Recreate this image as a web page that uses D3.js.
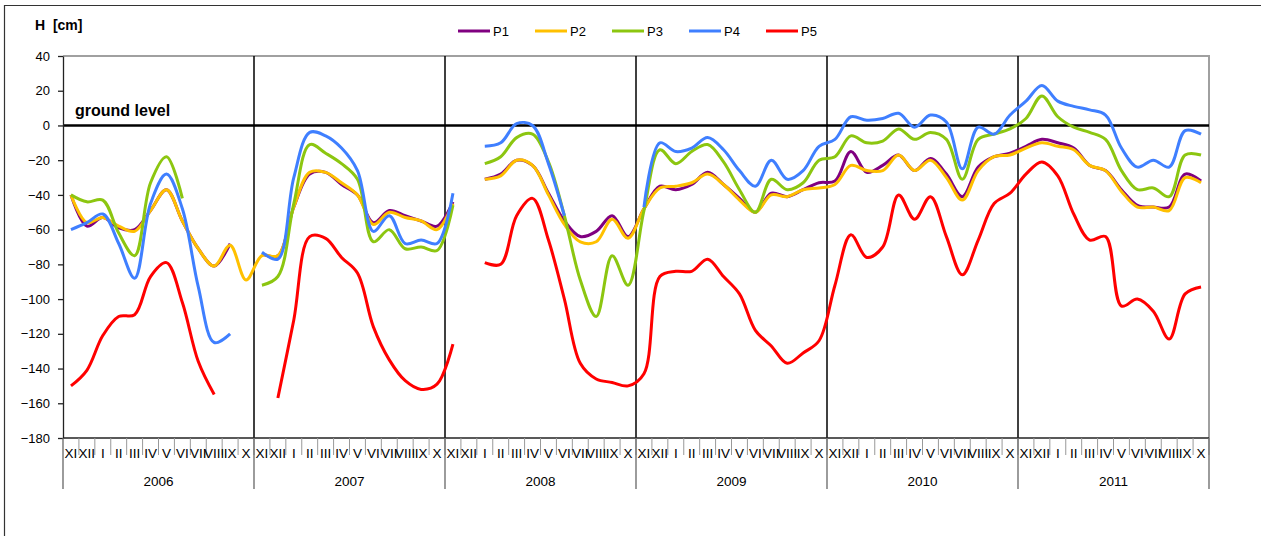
<!DOCTYPE html>
<html>
<head>
<meta charset="utf-8">
<script src="https://cdnjs.cloudflare.com/ajax/libs/d3/7.8.5/d3.min.js"></script>
<style>
body { margin: 0; background: #fff; }
text { font-family: "Liberation Sans", Arial, sans-serif; fill: #000; }
</style>
</head>
<body>
<script>
// hydrological years, each one runs XI..X
var years = ["2006", "2007", "2008", "2009", "2010", "2011"];
var months = ["XI", "XII", "I", "II", "III", "IV", "V", "VI", "VII", "VIII", "IX", "X"];
var yTicks = [40, 20, 0, -20, -40, -60, -80, -100, -120, -140, -160, -180];

var seriesNames = ["P1", "P2", "P3", "P4", "P5"];
var seriesColors = ["#800080", "#FFC000", "#8CC610", "#3F7FFF", "#FF0000"];

// groundwater level, one value per month (null = no reading)
var p1 = [
    -40, -58, -53, -59, -60, -49, -37, -55, -71, -81, -68, null,
    -74, -75, -47, -28, -27, -34, -40, -56, -49, -52, -55, -58,
    -44, null, -31, -28, -20, -23, -39, -55, -64, -61, -52, -64,
    -48, -35, -37, -34, -27, -34, -42, -50, -39, -41, -37, -33,
    -32, -15, -27, -23, -17, -26, -19, -28, -41, -24, -18, -16,
    -12, -8, -10, -13, -23, -26, -37, -46, -47, -47, -28, -32
];
var p2 = [
    -40, -56, -53, -58, -61, -49, -37, -55, -71, -81, -69, -89,
    -75, -75, -47, -27, -27, -33, -40, -57, -50, -53, -55, -60,
    -45, null, -31, -29, -20, -23, -40, -57, -67, -67, -54, -65,
    -48, -36, -35, -33, -28, -34, -43, -50, -40, -41, -37, -36,
    -34, -23, -26, -26, -17, -26, -20, -30, -43, -26, -18, -17,
    -13, -10, -12, -14, -23, -26, -38, -47, -47, -49, -30, -33
];
var p3 = [
    -40, -44, -43, -62, -75, -33, -18, -42, null, null, null, null,
    -92, -87, -45, -11, -16, -22, -31, -67, -60, -71, -70, -72,
    -46, null, -22, -18, -7, -5, -21, -52, -89, -110, -75, -92,
    -49, -14, -22, -15, -11, -21, -37, -50, -31, -37, -33, -20,
    -18, -6, -10, -9, -2, -8, -4, -8, -31, -8, -5, -2,
    4, 17, 5, -1, -4, -8, -26, -37, -36, -41, -17, -17
];
var p4 = [
    -60, -56, -51, -68, -88, -45, -28, -48, -93, -125, -120, null,
    -73, -77, -30, -4, -6, -13, -26, -61, -52, -68, -66, -68,
    -39, null, -12, -10, 1, 0, -22, -52, null, null, null, null,
    -47, -10, -15, -13, -7, -14, -26, -35, -20, -31, -26, -12,
    -8, 5, 3, 4, 7, -1, 6, 2, -25, -1, -5, 6,
    14, 23, 14, 11, 9, 6, -13, -24, -20, -24, -3, -5
];
var p5 = [
    -150, -141, -121, -110, -109, -87, -79, -102, -136, -155, null, null,
    null, -157, -112, -64, -65, -76, -85, -116, -135, -147, -152, -149,
    -126, null, -79, -80, -52, -42, -66, -100, -137, -146, -148, -150,
    -143, -87, -84, -84, -77, -87, -97, -118, -127, -137, -131, -124,
    -92, -63, -76, -70, -40, -54, -41, -64, -86, -66, -45, -39,
    -28, -21, -29, -51, -66, -64, -104, -100, -107, -123, -97, -93
];
var allSeries = [p1, p2, p3, p4, p5];

var w = 1261;
var h = 536;
var plot = { left: 63, right: 1209, top: 56, bottom: 438 };

var categories = [];
years.forEach(function (yr) {
    months.forEach(function (m) { categories.push(yr + " " + m); });
});

var x = d3.scaleBand().domain(categories).range([plot.left, plot.right]).padding(0);
var xYear = d3.scaleBand().domain(years).range([plot.left, plot.right]).padding(0);
var y = d3.scaleLinear().domain([-180, 40]).range([plot.bottom, plot.top]);

var svg = d3.select("body")
    .append("svg")
    .attr("width", w)
    .attr("height", h);

// frame of the embedded chart (cut by the page)
svg.append("line").attr("x1", 4).attr("x2", w).attr("y1", 5.5).attr("y2", 5.5)
    .style("stroke", "#333").style("stroke-width", 1.2);
svg.append("line").attr("x1", 4.5).attr("x2", 4.5).attr("y1", 5).attr("y2", h)
    .style("stroke", "#333").style("stroke-width", 1.2);

var drawPlotArea = function () {
    // top and right border of plot area
    svg.append("path")
        .attr("d", "M" + plot.left + "," + plot.top + "H" + plot.right + "V" + plot.bottom)
        .style("fill", "none")
        .style("stroke", "#a0a0a0")
        .style("stroke-width", 2);

    // year separators
    svg.selectAll(".yearLine")
        .data(years.slice(1))
        .enter()
        .append("line")
        .attr("class", "yearLine")
        .attr("x1", (d) => { return xYear(d) })
        .attr("x2", (d) => { return xYear(d) })
        .attr("y1", plot.top)
        .attr("y2", plot.bottom)
        .style("stroke", "#000")
        .style("stroke-width", 1.5);

    // ground level line
    svg.append("line")
        .attr("x1", plot.left)
        .attr("x2", plot.right)
        .attr("y1", y(0))
        .attr("y2", y(0))
        .style("stroke", "#000")
        .style("stroke-width", 2.5);

    svg.append("text")
        .attr("x", 75)
        .attr("y", 116)
        .style("font-size", "16px")
        .style("font-weight", "bold")
        .text("ground level");
}

var drawYAxis = function () {
    var axis = svg.append("g")
        .attr("transform", "translate(" + plot.left + ",0)")
        .call(d3.axisLeft(y).tickValues(yTicks).tickSize(5).tickPadding(8).tickSizeOuter(0));
    axis.select(".domain").style("stroke", "#222").style("stroke-width", 1.3);
    axis.selectAll(".tick line").style("stroke", "#222").style("stroke-width", 1.3);
    axis.selectAll("text")
        .style("font-family", "'Liberation Sans', Arial, sans-serif")
        .style("font-size", "13px")
        .style("fill", "#000");

    svg.append("text")
        .attr("x", 35)
        .attr("y", 30)
        .style("font-size", "14px")
        .style("font-weight", "bold")
        .style("white-space", "pre")
        .text("H  [cm]");
}

var drawXAxis = function () {
    svg.append("line")
        .attr("x1", plot.left)
        .attr("x2", plot.right)
        .attr("y1", plot.bottom)
        .attr("y2", plot.bottom)
        .style("stroke", "#222")
        .style("stroke-width", 1.3);

    // month ticks
    svg.selectAll(".monthTick")
        .data(categories)
        .enter()
        .append("line")
        .attr("class", "monthTick")
        .attr("x1", (d) => { return x(d) + x.bandwidth() })
        .attr("x2", (d) => { return x(d) + x.bandwidth() })
        .attr("y1", plot.bottom)
        .attr("y2", 455)
        .style("stroke", "#999")
        .style("stroke-width", 1);

    svg.selectAll(".monthLabel")
        .data(categories)
        .enter()
        .append("text")
        .attr("class", "monthLabel")
        .attr("x", (d) => { return x(d) + x.bandwidth() / 2 })
        .attr("y", 458)
        .attr("text-anchor", "middle")
        .style("font-size", "13.5px")
        .text((d) => { return d.split(" ")[1] });

    // year ticks
    svg.selectAll(".yearTick")
        .data(years.concat(["end"]))
        .enter()
        .append("line")
        .attr("class", "yearTick")
        .attr("x1", (d) => { return d == "end" ? plot.right : xYear(d) })
        .attr("x2", (d) => { return d == "end" ? plot.right : xYear(d) })
        .attr("y1", plot.bottom)
        .attr("y2", 489)
        .style("stroke", "#666")
        .style("stroke-width", 1.3);

    svg.selectAll(".yearLabel")
        .data(years)
        .enter()
        .append("text")
        .attr("class", "yearLabel")
        .attr("x", (d) => { return xYear(d) + xYear.bandwidth() / 2 })
        .attr("y", 486)
        .attr("text-anchor", "middle")
        .style("font-size", "13.5px")
        .text((d) => { return d });
}

var drawSeries = function () {
    var line = d3.line()
        .defined((d) => { return d != null })
        .x((d, i) => { return x(categories[i]) + x.bandwidth() / 2 })
        .y((d) => { return y(d) })
        .curve(d3.curveCatmullRom.alpha(0.5));

    svg.selectAll(".series")
        .data(allSeries)
        .enter()
        .append("path")
        .attr("class", "series")
        .attr("d", line)
        .style("fill", "none")
        .style("stroke", (d, i) => { return seriesColors[i] })
        .style("stroke-width", 3)
        .style("stroke-linejoin", "round");
}

var drawLegend = function () {
    var item = svg.selectAll(".legend")
        .data(seriesNames)
        .enter()
        .append("g")
        .attr("class", "legend")
        .attr("transform", (d, i) => { return "translate(" + (458 + i * 77) + ",31)" });

    item.append("line")
        .attr("x1", 0)
        .attr("x2", 32)
        .style("stroke", (d, i) => { return seriesColors[i] })
        .style("stroke-width", 3);

    item.append("text")
        .attr("x", 35)
        .attr("y", 5)
        .style("font-size", "13px")
        .text((d) => { return d });
}

drawPlotArea();
drawSeries();
drawYAxis();
drawXAxis();
drawLegend();
</script>
</body>
</html>
